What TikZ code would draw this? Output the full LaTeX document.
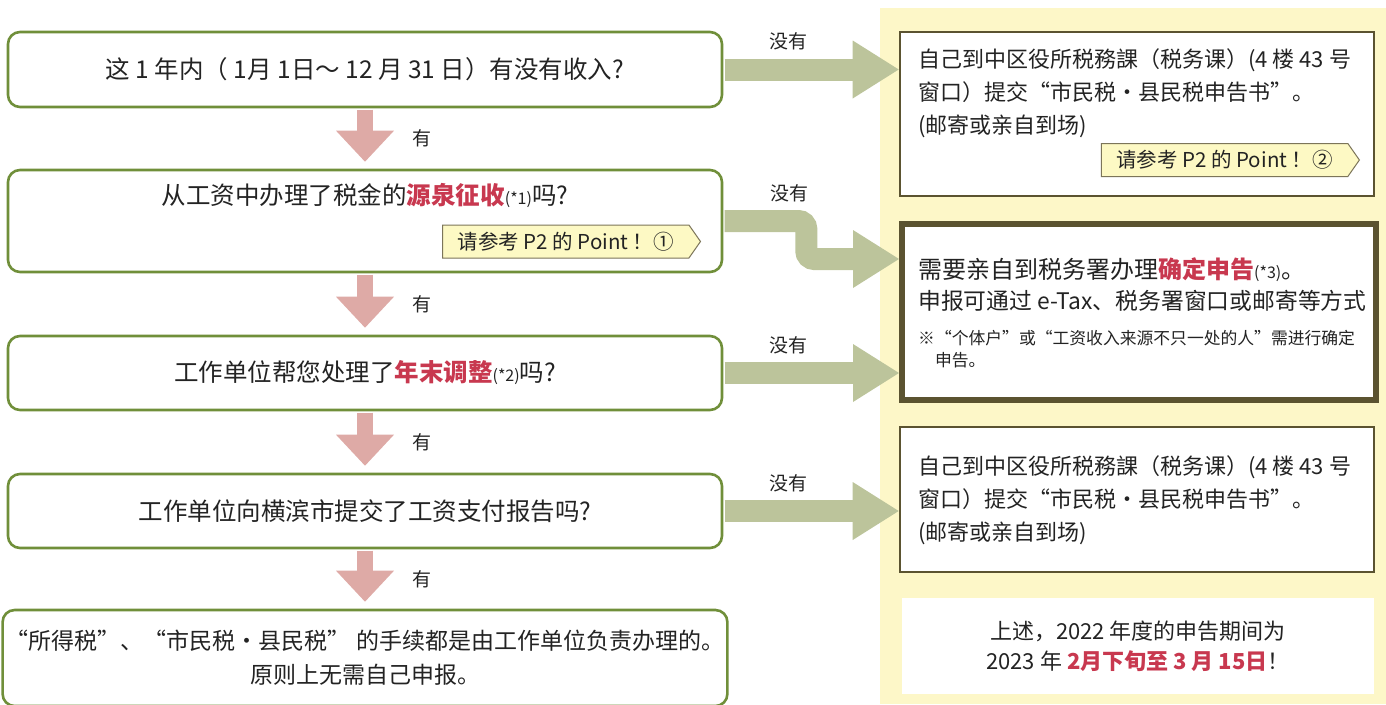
\documentclass[tikz,border=0pt]{standalone}
\usepackage{fontspec}
\setmainfont{Noto Sans CJK SC}
\usetikzlibrary{arrows.meta,calc,shapes.symbols}

\definecolor{boxgreen}{RGB}{112,143,58}
\definecolor{boxdark}{RGB}{91,83,48}
\definecolor{yespink}{RGB}{222,170,166}
\definecolor{nogreen}{RGB}{188,196,155}
\definecolor{panelyellow}{RGB}{253,247,200}
\definecolor{calloutfill}{RGB}{253,249,196}
\definecolor{hlred}{RGB}{200,56,79}
\definecolor{txt}{RGB}{35,35,35}

\newcommand\redtxt[1]{{\color{hlred}\bfseries #1}}
\newcommand\noteref[1]{{\fontsize{16}{16}\selectfont(*#1)}}

\tikzset{
  qbox/.style={draw=boxgreen, line width=2.6pt, rounded corners=12pt,
    fill=white, minimum width=714pt, text=txt, align=center,
    font=\fontsize{24.5}{34}\selectfont},
  abox/.style={draw=boxdark, line width=2.6pt, fill=white,
    minimum width=474pt},
  atext/.style={anchor=north west, inner sep=0pt, align=left, text=txt,
    font=\fontsize{22}{33}\selectfont},
  yesarr/.style={draw=yespink, line width=16pt, shorten <=1.3pt, shorten >=7pt,
    -{Triangle[width=58pt,length=31pt,line width=0pt]}},
  noarr/.style={draw=nogreen, line width=22pt, shorten <=1.3pt,
    -{Triangle[width=58pt,length=46pt,line width=0pt]}},
  yeslabel/.style={right=36pt, text=txt, font=\fontsize{19}{19}\selectfont},
  nolabel/.style={above=5pt, text=txt, font=\fontsize{19}{19}\selectfont},
  callout/.style={signal, signal to=east, signal pointer angle=110,
    draw=boxdark!80, line width=1pt, fill=calloutfill, text=txt,
    minimum height=33pt, inner xsep=15pt, font=\fontsize{20.5}{20.5}\selectfont}
}

\begin{document}
\begin{tikzpicture}[x=1pt, y=-1pt]
    \useasboundingbox (0,0) rectangle (1386,704);
    % yellow panel behind the answers
    \fill[panelyellow] (880,8) rectangle (1386,704);

    % answers on the right
    \node[abox, minimum height=164pt] (r1) at (1137,114) {};
    \node[abox, line width=6pt, minimum height=176pt] (r2) at (1139,312) {};
    \node[abox, minimum height=145pt] (r3) at (1137,499.5) {};
    \node[abox, draw=none, minimum width=472pt, minimum height=96pt] (r4) at (1138,646) {};

    \node[atext] (r1t) at (918,48) {自己到中区役所税務課（税务课）(4 楼 43 号\\
        窗口）提交“市民税・县民税申告书”。\\(邮寄或亲自到场)};
    \node[callout, anchor=east] (p2) at (1360,160) {请参考 P2 的 Point ！②};

    \node[atext, font=\fontsize{24}{31}\selectfont] (r2t) at (918,257)
        {需要亲自到税务署办理\redtxt{确定申告}\noteref{3}。\\
        {\fontsize{22.8}{31}\selectfont 申报可通过 e-Tax、税务署窗口或邮寄等方式}};
    \node[atext, font=\fontsize{16.8}{22}\selectfont] (r2n) at (918,330)
        {※“个体户”或“工资收入来源不只一处的人”需进行确定\\
        \hspace*{1em}申告。};

    \node[atext] (r3t) at (918,455) {自己到中区役所税務課（税务课）(4 楼 43 号\\
        窗口）提交“市民税・县民税申告书”。\\(邮寄或亲自到场)};

    \node[text=txt, align=center, font=\fontsize{22}{30}\selectfont] (r4t) at (r4)
        {上述，2022 年度的申告期间为\\2023 年 \redtxt{2月下旬至 3 月 15日}！};

    % questions on the left
    \node[qbox, minimum height=75pt] (q1) at (365,69.5)
        {这 1 年内（ 1月 1日～ 12 月 31 日）有没有收入?};
    \node[qbox, minimum height=102pt] (q2) at (365,221) {};
    \node[qbox, minimum height=74pt] (q3) at (365,373)
        {工作单位帮您处理了\redtxt{年末调整}\noteref{2}吗?};
    \node[qbox, minimum height=74pt] (q4) at (365,511)
        {工作单位向横滨市提交了工资支付报告吗?};
    \node[qbox, minimum height=96pt, font=\fontsize{23}{34}\selectfont] (q5) at (365,658)
        {“所得税”、“市民税·县民税” 的手续都是由工作单位负责办理的。\\
        原则上无需自己申报。};

    \node[text=txt, font=\fontsize{24.5}{24.5}\selectfont] (q2t) at (365,195)
        {从工资中办理了税金的\redtxt{源泉征收}\noteref{1}吗?};
    \node[callout, anchor=west] (p1) at (442,241.5) {请参考 P2 的 Point ！①};

    % yes: straight down
    \foreach \a/\b in {q1/q2,q2/q3,q3/q4,q4/q5}
        \draw[yesarr] (\a.south) -- node[yeslabel] {有} (\b.north);

    % no: to the right
    \foreach \a/\b in {q1/r1,q3/r2,q4/r3}
        \draw[noarr] (\a.east) -- node[pos=0.37, nolabel] {没有} (\a.east -| \b.west);
    \draw[noarr, rounded corners=8pt] (q2.east) -- node[pos=0.8, nolabel] {没有}
        ++(83,0) |- ($(r2.north west)+(0,38)$);
\end{tikzpicture}
\end{document}
